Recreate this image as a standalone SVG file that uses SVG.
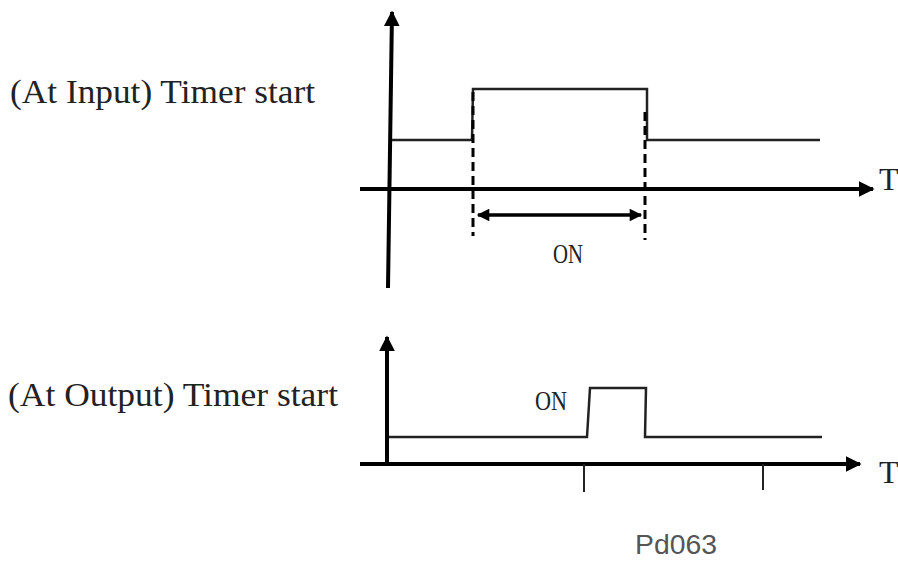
<svg xmlns="http://www.w3.org/2000/svg" width="898" height="562" viewBox="0 0 898 562">
<style>
.lbl{font-family:"Liberation Serif","Times New Roman",serif;fill:#222}
.axis{stroke:#000;stroke-width:4;fill:none}
.sig{stroke:#222;stroke-width:2.5;fill:none}
.dash{stroke:#000;stroke-width:3;stroke-dasharray:9 5;fill:none}
.tick{stroke:#222;stroke-width:2;fill:none}
.dim{stroke:#000;stroke-width:3.5;fill:none}
</style>
<defs>
<marker id="ah" viewBox="0 0 10 10" refX="9" refY="5" markerWidth="4" markerHeight="4" orient="auto-start-reverse" markerUnits="strokeWidth">
<path d="M0,0 L10,5 L0,10 z" fill="#000"/>
</marker>
<marker id="dh" viewBox="0 0 10 10" refX="9" refY="5" markerWidth="4.5" markerHeight="3.6" orient="auto-start-reverse" markerUnits="strokeWidth">
<path d="M0,0 L10,5 L0,10 z" fill="#000"/>
</marker>
</defs>
<rect width="898" height="562" fill="#fff"/>
<g id="labels">
<text class="lbl" x="10" y="103" font-size="34" textLength="305" lengthAdjust="spacingAndGlyphs">(At Input) Timer start</text>
<text class="lbl" x="8" y="406" font-size="34" textLength="330" lengthAdjust="spacingAndGlyphs">(At Output) Timer start</text>
</g>
<g id="input-chart">
<line class="axis" x1="388" y1="288" x2="392" y2="12" marker-end="url(#ah)"/>
<line class="axis" x1="360" y1="189" x2="873" y2="189" marker-end="url(#ah)"/>
<text class="lbl" x="879" y="190" font-size="32">T</text>
<polyline class="sig" points="392,140 472,140 473,89 647,89 647,140 820,140"/>
<line class="dash" x1="473" y1="92" x2="473" y2="236"/>
<line class="dash" x1="645" y1="112" x2="645" y2="240"/>
<line class="dim" x1="478" y1="215" x2="641" y2="215" marker-start="url(#dh)" marker-end="url(#dh)"/>
<text class="lbl" x="553" y="263" font-size="28" textLength="30" lengthAdjust="spacingAndGlyphs">ON</text>
</g>
<g id="output-chart">
<line class="axis" x1="387" y1="464" x2="387" y2="337" marker-end="url(#ah)"/>
<line class="axis" x1="360" y1="464" x2="860" y2="464" marker-end="url(#ah)"/>
<text class="lbl" x="879" y="483" font-size="32">T</text>
<polyline class="sig" points="389,437 587,437 590,388 646,388 645,437 822,437"/>
<line class="tick" x1="584" y1="464" x2="584" y2="492"/>
<line class="tick" x1="763" y1="464" x2="763" y2="490"/>
<text class="lbl" x="535" y="410" font-size="28" textLength="32" lengthAdjust="spacingAndGlyphs">ON</text>
<text x="635" y="554" font-family="Liberation Sans, Arial, sans-serif" font-size="27" fill="#555" textLength="82" lengthAdjust="spacingAndGlyphs">Pd063</text>
</g>
</svg>
